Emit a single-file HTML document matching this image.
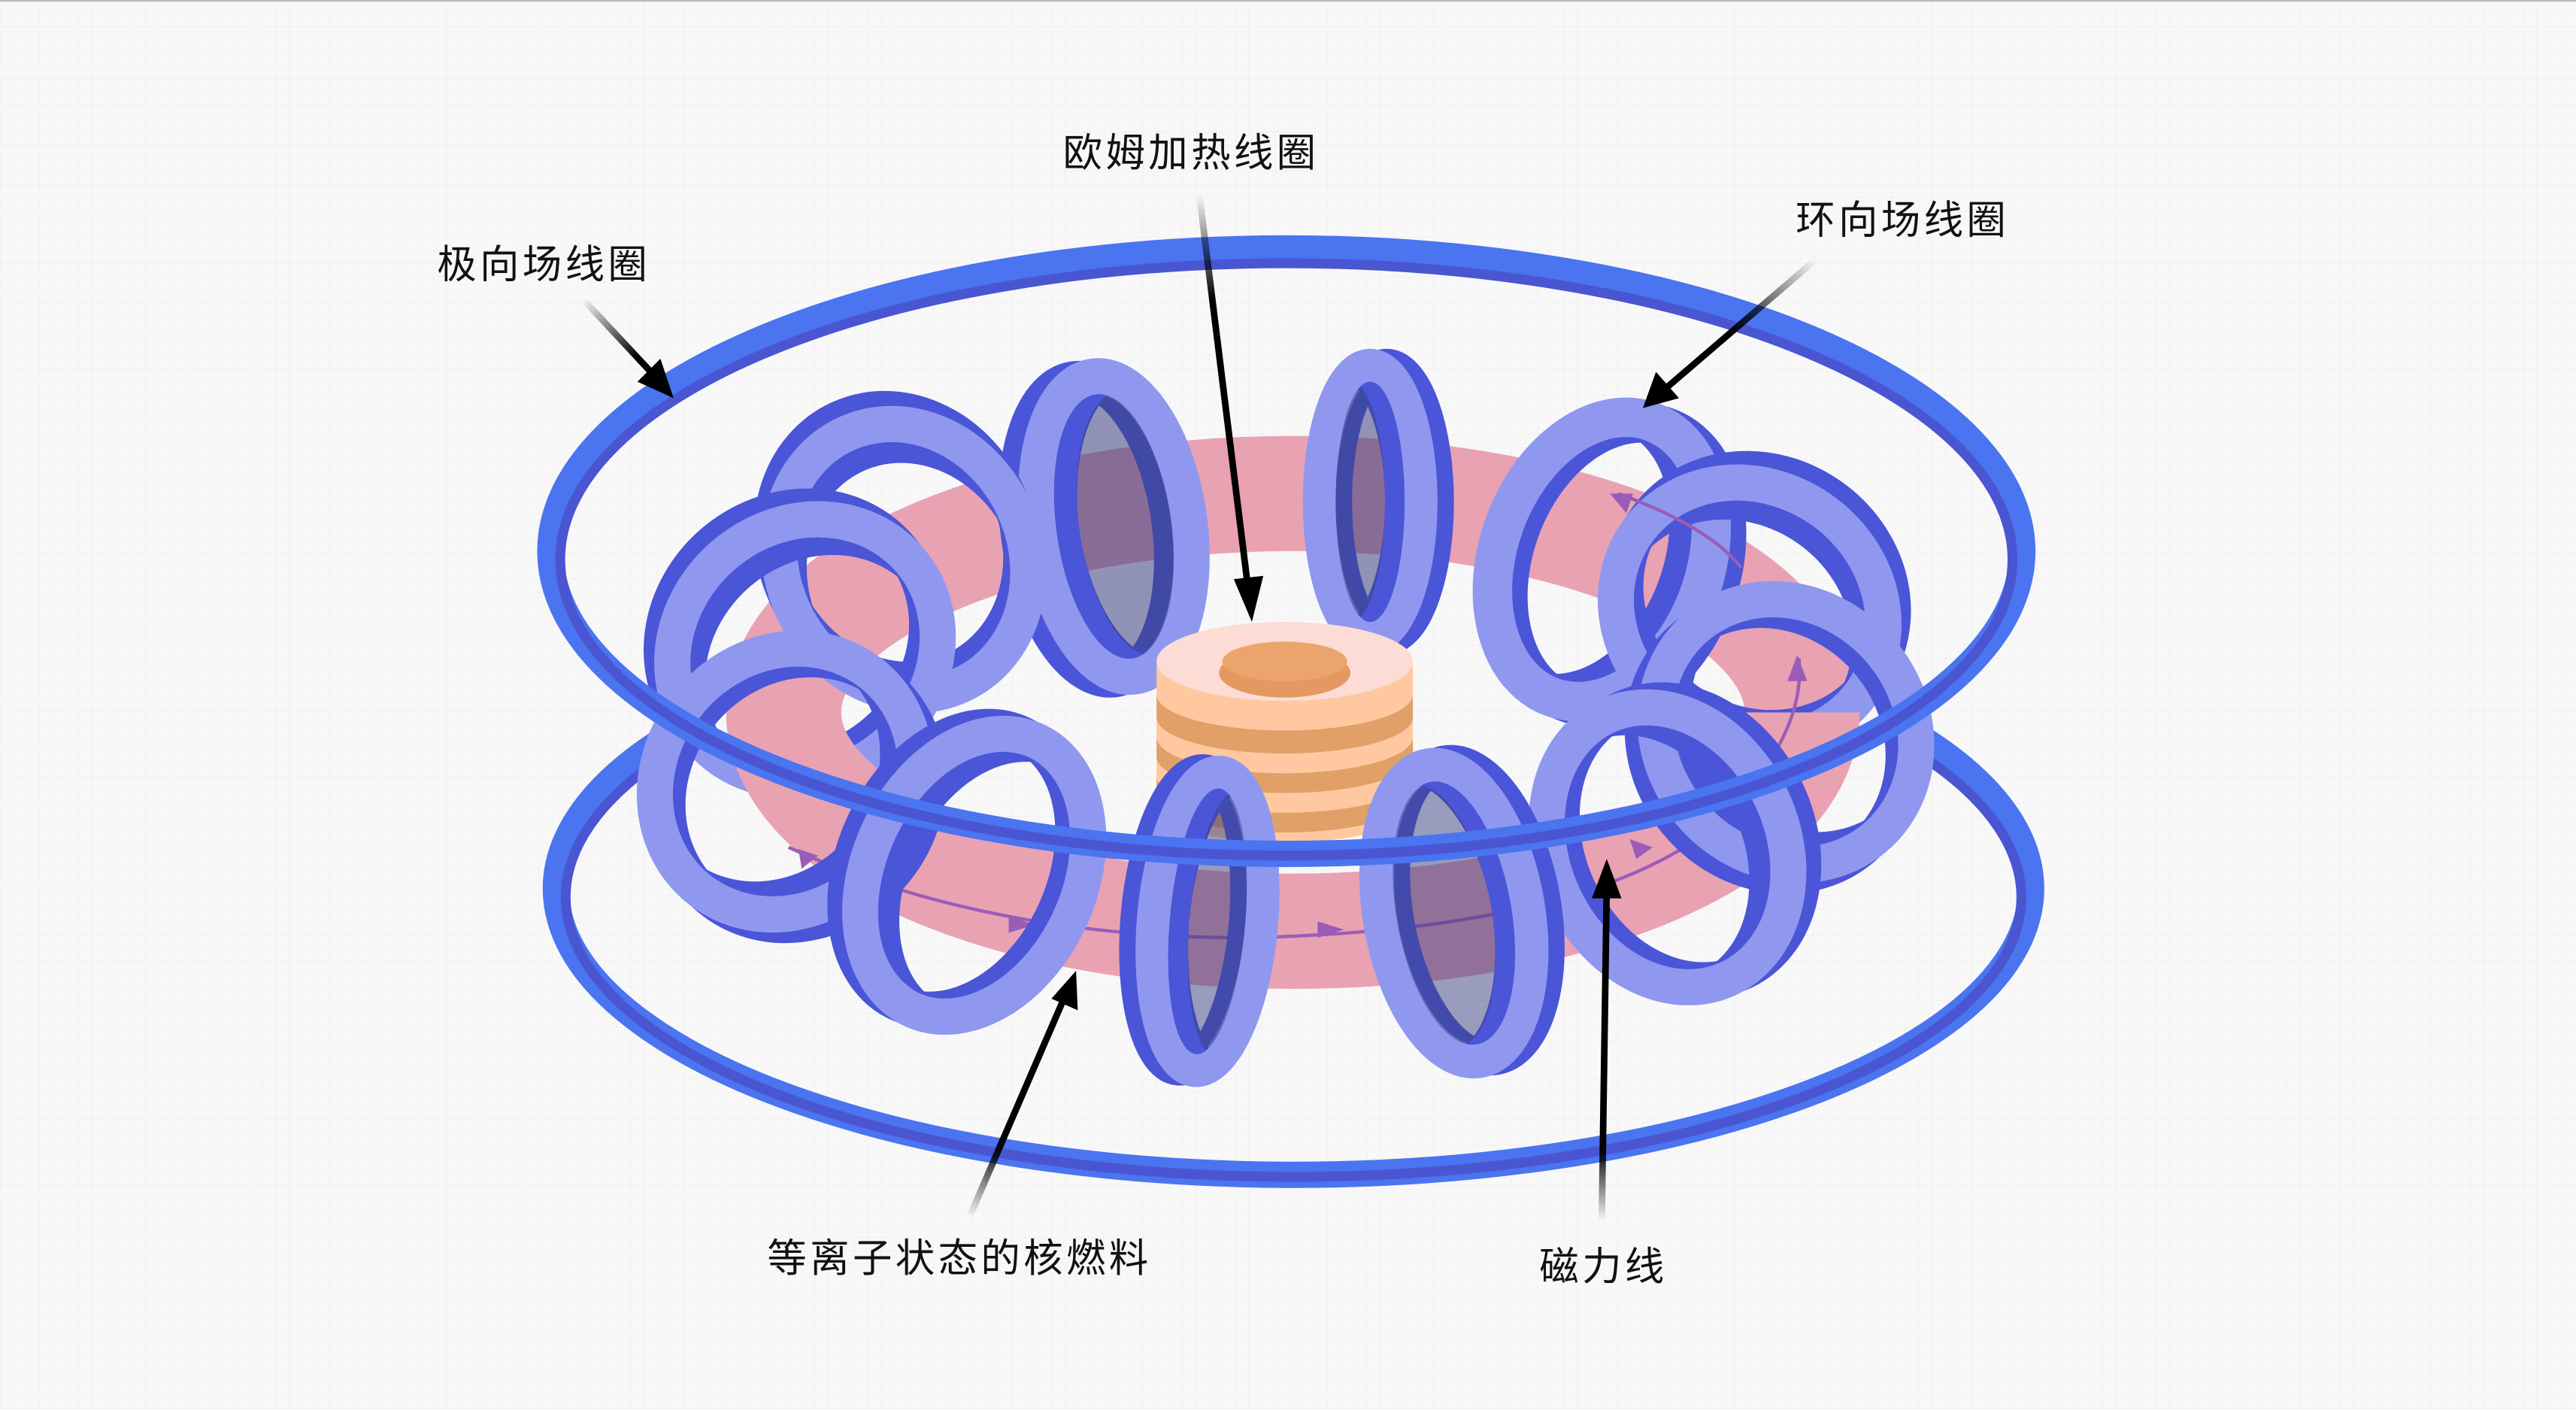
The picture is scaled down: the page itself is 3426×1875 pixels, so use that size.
<!DOCTYPE html>
<html><head><meta charset="utf-8"><style>
html,body{margin:0;padding:0;background:#f8f8f8;}
svg{display:block;}
text{font-family:"Liberation Sans","Noto Sans CJK SC",sans-serif;font-size:24px;fill:#111;letter-spacing:2px;}
</style></head><body>
<svg width="3426" height="1875" viewBox="0 0 1568 857" preserveAspectRatio="none" xmlns="http://www.w3.org/2000/svg">
<defs>
<pattern id="g" width="8" height="8" patternUnits="userSpaceOnUse"><path d="M8 0H0V8" fill="none" stroke="#ececec" stroke-width="0.5"/></pattern>
<linearGradient id="a1" gradientUnits="userSpaceOnUse" x1="730" y1="118" x2="762" y2="378"><stop offset="0" stop-color="#000" stop-opacity="0"/><stop offset="0.25" stop-color="#000"/></linearGradient>
<linearGradient id="a2" gradientUnits="userSpaceOnUse" x1="355" y1="182" x2="410" y2="240"><stop offset="0" stop-color="#000" stop-opacity="0"/><stop offset="0.6" stop-color="#000"/></linearGradient>
<linearGradient id="a3" gradientUnits="userSpaceOnUse" x1="1105" y1="158" x2="1000" y2="248"><stop offset="0" stop-color="#000" stop-opacity="0"/><stop offset="0.5" stop-color="#000"/></linearGradient>
<linearGradient id="a4" gradientUnits="userSpaceOnUse" x1="590" y1="740" x2="655" y2="590"><stop offset="0" stop-color="#000" stop-opacity="0"/><stop offset="0.3" stop-color="#000"/></linearGradient>
<linearGradient id="a5" gradientUnits="userSpaceOnUse" x1="975" y1="742" x2="978" y2="522"><stop offset="0" stop-color="#000" stop-opacity="0"/><stop offset="0.2" stop-color="#000"/></linearGradient>
</defs>
<rect width="1568" height="857" fill="#f8f8f8"/>
<rect width="1568" height="857" fill="url(#g)"/>
<line x1="0" y1="0.5" x2="1568" y2="0.5" stroke="#bbb"/>

<!-- bottom poloidal ring (front part only) -->
<path d="M420 440 A449 174 0 1 0 1160 443" fill="none" stroke="#4a74f0" stroke-width="16"/>
<path d="M424 448 A443 170 0 1 0 1156 451" fill="none" stroke="#4a55d2" stroke-width="6"/>

<!-- torus -->
<ellipse cx="787" cy="433" rx="310" ry="133" fill="none" stroke="#e9a2b2" stroke-width="70"/>

<!-- back coils -->
<g transform="translate(678,320) rotate(-8)">
<ellipse cx="-12" rx="46" ry="92" fill="none" stroke="#4a55d8" stroke-width="22"/>
<ellipse rx="46" ry="92" fill="none" stroke="#8f98ee" stroke-width="22"/>
<clipPath id="c1"><ellipse rx="35" ry="81"/></clipPath>
<ellipse clip-path="url(#c1)" cx="14" rx="55" ry="101" fill="none" stroke="#4a55d8" stroke-width="40"/>
<ellipse clip-path="url(#c1)" cx="14" rx="35" ry="81" fill="#3a3f80" opacity=".55"/>
</g>
<g transform="translate(834,305)">
<ellipse cx="10" rx="31" ry="83" fill="none" stroke="#4a55d8" stroke-width="20"/>
<ellipse rx="31" ry="83" fill="none" stroke="#8f98ee" stroke-width="20"/>
<clipPath id="c2"><ellipse rx="21" ry="73"/></clipPath>
<ellipse clip-path="url(#c2)" cx="-12" rx="41" ry="93" fill="none" stroke="#4a55d8" stroke-width="40"/>
<ellipse clip-path="url(#c2)" cx="-12" rx="21" ry="73" fill="#3a3f80" opacity=".55"/>
</g>
<g transform="translate(975,340) rotate(20)">
<ellipse cx="10" rx="63" ry="89" fill="none" stroke="#4a55d8" stroke-width="24"/>
<ellipse rx="63" ry="89" fill="none" stroke="#8f98ee" stroke-width="24"/>
<clipPath id="c3"><ellipse rx="51" ry="77"/></clipPath>
<ellipse clip-path="url(#c3)" cx="-14" rx="71" ry="97" fill="none" stroke="#4a55d8" stroke-width="40"/>
</g>
<g transform="translate(550,340) rotate(-25)">
<ellipse cy="-10" rx="74" ry="84" fill="none" stroke="#4a55d8" stroke-width="22"/>
<ellipse rx="74" ry="84" fill="none" stroke="#8f98ee" stroke-width="22"/>
<clipPath id="c4"><ellipse rx="63" ry="73"/></clipPath>
<ellipse clip-path="url(#c4)" cy="14" rx="83" ry="93" fill="none" stroke="#4a55d8" stroke-width="40"/>
</g>
<g transform="translate(1065,372) rotate(35)">
<ellipse cy="-10" rx="84" ry="76" fill="none" stroke="#4a55d8" stroke-width="22"/>
<ellipse rx="84" ry="76" fill="none" stroke="#8f98ee" stroke-width="22"/>
<clipPath id="c5"><ellipse rx="73" ry="65"/></clipPath>
<ellipse clip-path="url(#c5)" cy="14" rx="93" ry="85" fill="none" stroke="#4a55d8" stroke-width="40"/>
</g>
<g transform="translate(490,395) rotate(-40)">
<ellipse cy="-10" rx="84" ry="76" fill="none" stroke="#4a55d8" stroke-width="22"/>
<ellipse rx="84" ry="76" fill="none" stroke="#8f98ee" stroke-width="22"/>
<clipPath id="c6"><ellipse rx="73" ry="65"/></clipPath>
<ellipse clip-path="url(#c6)" cy="14" rx="93" ry="85" fill="none" stroke="#4a55d8" stroke-width="40"/>
</g>

<!-- torus front band -->
<path d="M477 433 A310 133 0 0 0 1097 433" fill="none" stroke="#e9a2b2" stroke-width="70"/>

<!-- central solenoid -->
<g>
<path d="M704 402 V490 A78 22 0 0 0 860 490 V402 Z" fill="#ffc8a0"/>
<path d="M704 422 A78 22 0 0 0 860 422 V436 A78 22 0 0 1 704 436 Z" fill="#e0a068"/>
<path d="M704 448 A78 22 0 0 0 860 448 V460 A78 22 0 0 1 704 460 Z" fill="#e0a068"/>
<path d="M704 472 A78 22 0 0 0 860 472 V484 A78 22 0 0 1 704 484 Z" fill="#e0a068"/>
<ellipse cx="782" cy="402" rx="78" ry="24" fill="#fcdcd4"/>
<ellipse cx="782" cy="409" rx="40" ry="15" fill="#e3995f"/>
<ellipse cx="782" cy="402" rx="38" ry="12" fill="#eba56c"/>
</g>

<!-- magnetic field lines -->
<g fill="none" stroke="#9b5cb8" stroke-width="2">
<path d="M480 515 Q600 570 760 570 Q960 565 1040 505 Q1100 450 1095 400"/>
<path d="M985 300 Q1040 320 1060 345"/>
</g>
<g fill="#9b5cb8">
<polygon points="498,520 486,516 488,528"/>
<polygon points="630,562 614,557 614,567"/>
<polygon points="818,565 802,560 802,570"/>
<polygon points="1006,515 992,510 996,522"/>
<polygon points="1094,398 1088,414 1100,414"/>
<polygon points="980,300 994,300 990,312"/>
</g>

<!-- front coils -->
<g transform="translate(1087,445) rotate(50)">
<ellipse cy="10" rx="84" ry="76" fill="none" stroke="#4a55d8" stroke-width="22"/>
<ellipse rx="84" ry="76" fill="none" stroke="#8f98ee" stroke-width="22"/>
<clipPath id="c7"><ellipse rx="73" ry="65"/></clipPath>
<ellipse clip-path="url(#c7)" cy="-14" rx="93" ry="85" fill="none" stroke="#4a55d8" stroke-width="40"/>
</g>
<g transform="translate(478,475) rotate(-50)">
<ellipse cy="10" rx="84" ry="76" fill="none" stroke="#4a55d8" stroke-width="22"/>
<ellipse rx="84" ry="76" fill="none" stroke="#8f98ee" stroke-width="22"/>
<clipPath id="c8"><ellipse rx="73" ry="65"/></clipPath>
<ellipse clip-path="url(#c8)" cy="-14" rx="93" ry="85" fill="none" stroke="#4a55d8" stroke-width="40"/>
</g>
<g transform="translate(1015,515) rotate(-25)">
<ellipse cx="10" rx="70" ry="88" fill="none" stroke="#4a55d8" stroke-width="22"/>
<ellipse rx="70" ry="88" fill="none" stroke="#8f98ee" stroke-width="22"/>
<clipPath id="c9"><ellipse rx="59" ry="77"/></clipPath>
<ellipse clip-path="url(#c9)" cx="-14" rx="79" ry="97" fill="none" stroke="#4a55d8" stroke-width="40"/>
</g>
<g transform="translate(593,532) rotate(25)">
<ellipse cx="-10" rx="64" ry="90" fill="none" stroke="#4a55d8" stroke-width="22"/>
<ellipse rx="64" ry="90" fill="none" stroke="#8f98ee" stroke-width="22"/>
<clipPath id="c10"><ellipse rx="53" ry="79"/></clipPath>
<ellipse clip-path="url(#c10)" cx="14" rx="73" ry="99" fill="none" stroke="#4a55d8" stroke-width="40"/>
</g>
<g transform="translate(885,555) rotate(-10)">
<ellipse cx="10" rx="45" ry="91" fill="none" stroke="#4a55d8" stroke-width="21"/>
<ellipse rx="45" ry="91" fill="none" stroke="#8f98ee" stroke-width="21"/>
<clipPath id="c11"><ellipse rx="35" ry="81"/></clipPath>
<ellipse clip-path="url(#c11)" cx="-12" rx="55" ry="101" fill="none" stroke="#4a55d8" stroke-width="40"/>
<ellipse clip-path="url(#c11)" cx="-12" rx="35" ry="81" fill="#3a3f80" opacity=".5"/>
</g>
<g transform="translate(735,560) rotate(5)">
<ellipse cx="-10" rx="33" ry="91" fill="none" stroke="#4a55d8" stroke-width="20"/>
<ellipse rx="33" ry="91" fill="none" stroke="#8f98ee" stroke-width="20"/>
<clipPath id="c12"><ellipse rx="23" ry="81"/></clipPath>
<ellipse clip-path="url(#c12)" cx="12" rx="43" ry="101" fill="none" stroke="#4a55d8" stroke-width="40"/>
<ellipse clip-path="url(#c12)" cx="12" rx="23" ry="81" fill="#3a3f80" opacity=".5"/>
</g>

<!-- top poloidal ring -->
<ellipse cx="783" cy="335" rx="448" ry="184" fill="none" stroke="#4a74f0" stroke-width="16"/>
<ellipse cx="783" cy="340" rx="442" ry="180" fill="none" stroke="#4a55d2" stroke-width="6"/>

<!-- arrows -->
<g stroke-width="4">
<line x1="730" y1="118" x2="760" y2="360" stroke="url(#a1)"/>
<line x1="355" y1="182" x2="398" y2="228" stroke="url(#a2)"/>
<line x1="1105" y1="158" x2="1014" y2="236" stroke="url(#a3)"/>
<line x1="590" y1="740" x2="648" y2="606" stroke="url(#a4)"/>
<line x1="975" y1="742" x2="978" y2="540" stroke="url(#a5)"/>
</g>
<polygon points="762,378 751,352 769,350" fill="#000"/>
<polygon points="410,242 388,232 402,218" fill="#000"/>
<polygon points="1000,248 1008,226 1022,242" fill="#000"/>
<polygon points="655,590 656,614 640,607" fill="#000"/>
<polygon points="978,522 987,546 969,546" fill="#000"/>

<!-- labels -->
<text x="725" y="101" text-anchor="middle">欧姆加热线圈</text>
<text x="331" y="169" text-anchor="middle">极向场线圈</text>
<text x="1158" y="142" text-anchor="middle">环向场线圈</text>
<text x="584" y="773" text-anchor="middle">等离子状态的核燃料</text>
<text x="976" y="778" text-anchor="middle">磁力线</text>
</svg>
</body></html>
